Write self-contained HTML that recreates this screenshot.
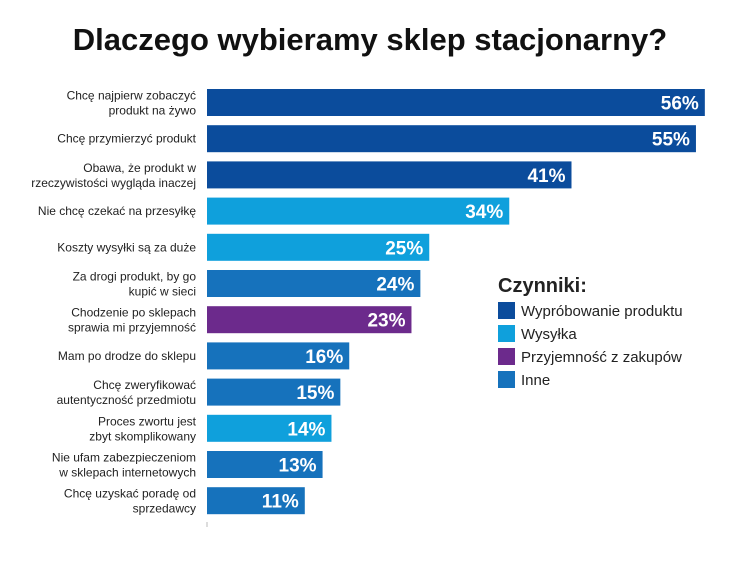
<!DOCTYPE html>
<html><head><meta charset="utf-8"><style>
body{margin:0;background:#fff;font-family:"Liberation Sans",sans-serif}
svg text{font-family:"Liberation Sans",sans-serif}
</style></head><body>
<svg id="chart" width="741" height="571" xmlns="http://www.w3.org/2000/svg">
<text x="370" y="50" text-anchor="middle" font-size="31" font-weight="bold" fill="#111">Dlaczego wybieramy sklep stacjonarny?</text>
<g id="bars"></g>
<g>
<text x="498" y="292" font-size="20" font-weight="bold" fill="#222">Czynniki:</text>
<rect x="498" y="302" width="17" height="17" fill="#0b4c9c"/>
<text x="521" y="316" font-size="15" fill="#222">Wypróbowanie produktu</text>
<rect x="498" y="325" width="17" height="17" fill="#0fa0dc"/>
<text x="521" y="339" font-size="15" fill="#222">Wysyłka</text>
<rect x="498" y="348" width="17" height="17" fill="#6c2a8c"/>
<text x="521" y="362" font-size="15" fill="#222">Przyjemność z zakupów</text>
<rect x="498" y="371" width="17" height="17" fill="#1672bc"/>
<text x="521" y="385" font-size="15" fill="#222">Inne</text>
</g>
<line x1="207" y1="522" x2="207" y2="527" stroke="#bbb"/>
</svg>
<script>
const categories=[["Chcę najpierw zobaczyć","produkt na żywo"],["Chcę przymierzyć produkt"],["Obawa, że produkt w","rzeczywistości wygląda inaczej"],["Nie chcę czekać na przesyłkę"],["Koszty wysyłki są za duże"],["Za drogi produkt, by go","kupić w sieci"],["Chodzenie po sklepach","sprawia mi przyjemność"],["Mam po drodze do sklepu"],["Chcę zweryfikować","autentyczność przedmiotu"],["Proces zwortu jest","zbyt skomplikowany"],["Nie ufam zabezpieczeniom","w sklepach internetowych"],["Chcę uzyskać poradę od","sprzedawcy"]];
const values=[56,55,41,34,25,24,23,16,15,14,13,11];
const groups=[0,0,0,1,1,3,2,3,3,1,3,3];
const valueLabels=["56%","55%","41%","34%","25%","24%","23%","16%","15%","14%","13%","11%"];
const colors=["#0b4c9c","#0fa0dc","#6c2a8c","#1672bc"];
(function(){
const x0=207, pxPer=8.89, barTop=89, step=36.2, bh=27;
function xScale(v){return v*pxPer;}
function yScale(i){return barTop+i*step;}
const g=document.getElementById('bars');
const NS="http://www.w3.org/2000/svg";
values.forEach((v,i)=>{
  const y=yScale(i), w=xScale(v);
  const r=document.createElementNS(NS,'rect');
  
  
  r.setAttribute('x',x0);r.setAttribute('y',y);r.setAttribute('width',w);r.setAttribute('height',bh);
  r.setAttribute('fill',colors[groups[i]]);
  g.appendChild(r);
  const t=document.createElementNS(NS,'text');
  
  
  t.setAttribute('x',x0+w-6);t.setAttribute('y',y+bh/2+7);
  t.setAttribute('text-anchor','end');t.setAttribute('font-size','19');t.setAttribute('font-weight','bold');t.setAttribute('fill','#fff');
  t.textContent=valueLabels[i];
  g.appendChild(t);
  const lines=categories[i];
  lines.forEach((s,j)=>{
    const c=document.createElementNS(NS,'text');
    
    
    c.setAttribute('x',196);
    const cy=y+bh/2+4+(lines.length===2?(j===0?-7:8):0);
    c.setAttribute('y',cy);
    c.setAttribute('text-anchor','end');c.setAttribute('font-size','12');c.setAttribute('fill','#222');
    c.textContent=s;
    g.appendChild(c);
  });
});
})();
</script>
</body></html>
